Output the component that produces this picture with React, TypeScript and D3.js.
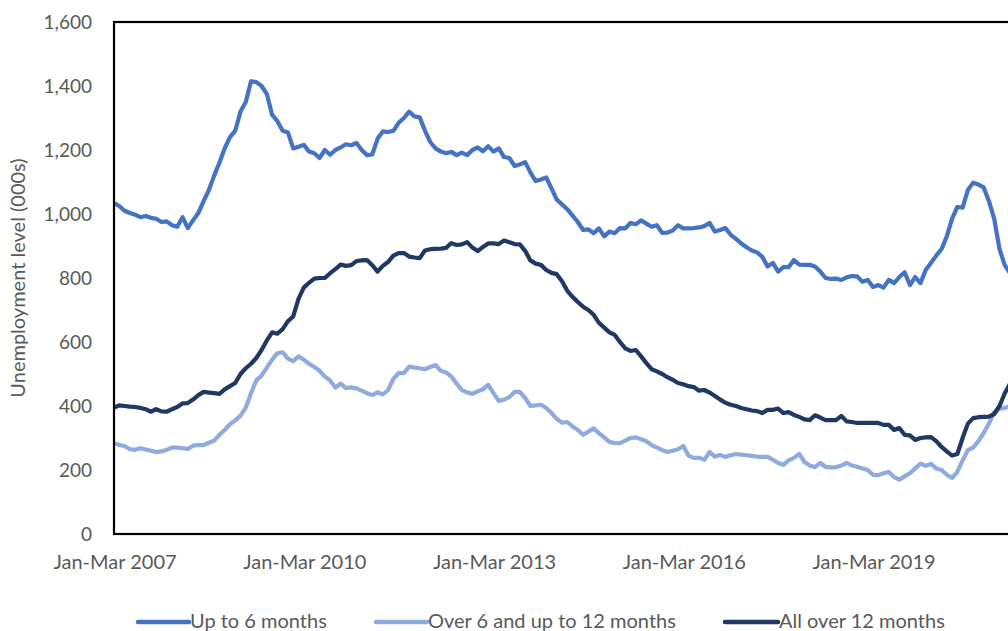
import * as d3 from 'd3';

// rolling quarters, monthly steps, starting Jan-Mar 2007
const monthNames = ['Jan', 'Feb', 'Mar', 'Apr', 'May', 'Jun', 'Jul', 'Aug', 'Sep', 'Oct', 'Nov', 'Dec'];

const upTo6 = [
  1034, 1025, 1010, 1003, 998, 990, 994, 988, 985, 975, 977, 965, 960, 990, 956, 980,
  1003, 1040, 1075, 1120, 1160, 1205, 1240, 1260, 1320, 1350, 1415, 1412, 1400, 1375, 1310, 1290,
  1260, 1255, 1205, 1210, 1216, 1195, 1190, 1175, 1200, 1185, 1200, 1208, 1218, 1215, 1222, 1200,
  1184, 1186, 1235, 1258, 1256, 1260, 1285, 1300, 1320, 1305, 1302, 1260, 1225, 1205, 1195, 1190,
  1194, 1184, 1192, 1184, 1200, 1208, 1196, 1212, 1195, 1205, 1178, 1175, 1150, 1155, 1162, 1130,
  1103, 1108, 1114, 1080, 1045, 1030, 1015, 995, 975, 950, 952, 940, 955, 930, 945, 940,
  956, 955, 972, 968, 980, 970, 960, 965, 941, 942, 948, 965, 955, 955, 956, 958,
  962, 972, 945, 950, 956, 935, 922, 908, 896, 886, 880, 866, 836, 847, 820, 834,
  834, 856, 842, 841, 841, 836, 820, 800, 797, 798, 794, 802, 806, 805, 788, 794,
  772, 778, 770, 794, 784, 803, 818, 778, 803, 784, 825, 847, 870, 890, 930, 985,
  1022, 1020, 1075, 1098, 1092, 1083, 1040, 985, 890, 840, 815, 800,
];

const over6to12 = [
  284, 278, 275, 265, 263, 268, 264, 260, 256, 258, 263, 270, 270, 268, 266, 276,
  278, 278, 285, 292, 310, 325, 343, 355, 370, 395, 440, 480, 495, 520, 545, 565,
  568, 548, 540, 555, 545, 532, 522, 510, 492, 480, 458, 470, 456, 458, 455, 448,
  440, 434, 443, 436, 450, 485, 503, 503, 523, 520, 518, 515, 522, 528, 510, 505,
  492, 470, 450, 442, 438, 446, 452, 466, 440, 416, 420, 428, 444, 444, 425, 400,
  402, 404, 394, 378, 360, 348, 350, 336, 325, 310, 320, 330, 315, 302, 288, 284,
  284, 292, 300, 302, 296, 290, 278, 270, 262, 256, 260, 265, 275, 245, 238, 238,
  232, 256, 242, 247, 241, 246, 250, 248, 246, 244, 242, 241, 241, 232, 222, 216,
  230, 238, 250, 225, 214, 209, 222, 210, 208, 209, 214, 222, 214, 210, 205, 200,
  185, 184, 190, 194, 178, 170, 180, 190, 205, 220, 213, 219, 205, 200, 185, 175,
  194, 230, 262, 270, 290, 316, 345, 380, 392, 394, 400, 410,
];

const over12 = [
  395, 402, 400, 398, 397, 394, 390, 382, 390, 383, 382, 390, 397, 408, 409, 420,
  434, 444, 442, 440, 438, 452, 462, 472, 500, 518, 532, 550, 575, 605, 630, 626,
  640, 665, 680, 735, 770, 785, 798, 800, 800, 815, 828, 842, 838, 840, 853, 855,
  856, 840, 820, 838, 850, 870, 878, 878, 867, 864, 862, 886, 890, 891, 892, 894,
  909, 903, 905, 912, 895, 884, 897, 908, 908, 906, 917, 912, 906, 905, 885, 855,
  845, 841, 825, 816, 812, 790, 760, 741, 725, 710, 700, 685, 660, 645, 630, 622,
  600, 580, 572, 575, 555, 534, 515, 508, 500, 490, 482, 472, 468, 462, 459, 448,
  450, 442, 431, 420, 410, 404, 400, 394, 390, 386, 384, 378, 388, 388, 392, 378,
  381, 372, 366, 358, 356, 371, 364, 356, 356, 356, 369, 352, 350, 347, 347, 347,
  347, 347, 341, 341, 325, 331, 310, 308, 294, 300, 302, 303, 290, 272, 258, 245,
  250, 300, 345, 362, 365, 366, 367, 375, 400, 440, 470, 495,
];

const periods = upTo6.map((_, i) => {
  const m = i % 12;
  const y = 2007 + Math.floor((i + 2) / 12);
  return `${monthNames[m]}-${monthNames[(m + 2) % 12]} ${y}`;
});

const tickLabels = ['Jan-Mar 2007', 'Jan-Mar 2010', 'Jan-Mar 2013', 'Jan-Mar 2016', 'Jan-Mar 2019'];
const yTicks = [0, 200, 400, 600, 800, 1000, 1200, 1400, 1600];

const seriesNames = ['Up to 6 months', 'Over 6 and up to 12 months', 'All over 12 months'];
const seriesColors = ['#4472C4', '#8FAADC', '#203864'];
const seriesData = [upTo6, over6to12, over12];

const W = 1008;
const H = 631;
const left = 114;
const top = 22;
const bottom = 534;
const font = 'Lato, "Open Sans", sans-serif';
const textColor = '#595959';

export default function App() {
  const x = d3.scaleLinear().domain([0, 144]).range([left, 873]);
  const y = d3.scaleLinear().domain([0, 1600]).range([bottom, top]);

  const line = d3.line<number>()
    .x((_, i) => x(i))
    .y(d => y(d))
    .curve(d3.curveLinear);

  const legendItems = [
    { x1: 138, x2: 189 },
    { x1: 376, x2: 427 },
    { x1: 725, x2: 778 },
  ];

  return (
    <svg width={W} height={H} style={{ position: 'absolute', left: 0, top: 0, background: '#fff' }}>
      <defs>
        <clipPath id="plotClip">
          <rect x={left} y={0} width={W - left} height={bottom + 4} />
        </clipPath>
      </defs>

      {/* y ticks */}
      {yTicks.map(t => (
        <text key={t} x={92} y={y(t)} dy="0.35em" textAnchor="end"
          fontFamily={font} fontSize={19} fill={textColor}>
          {d3.format(',')(t)}
        </text>
      ))}

      {/* x ticks */}
      {tickLabels.map(lbl => {
        const i = periods.indexOf(lbl);
        return (
          <text key={lbl} x={x(i) + 1} y={569} textAnchor="middle"
            fontFamily={font} fontSize={20} fill={textColor}>
            {lbl}
          </text>
        );
      })}

      <text transform={`translate(25,${(top + bottom) / 2}) rotate(-90)`} textAnchor="middle"
        fontFamily={font} fontSize={20} fill={textColor}>
        Unemployment level (000s)
      </text>

      <g clipPath="url(#plotClip)">
        {seriesData.map((s, k) => (
          <path key={seriesNames[k]} d={line(s) ?? ''} fill="none"
            stroke={seriesColors[k]} strokeWidth={4.2} strokeLinejoin="round" />
        ))}
      </g>

      {/* plot frame, right edge runs off the picture */}
      <rect x={left} y={top} width={W + 30 - left} height={bottom - top}
        fill="none" stroke="#000" strokeWidth={2.2} />

      {/* legend */}
      {seriesNames.map((name, k) => (
        <g key={name}>
          <line x1={legendItems[k].x1} x2={legendItems[k].x2} y1={622} y2={622}
            stroke={seriesColors[k]} strokeWidth={4.5} strokeLinecap="round" />
          <text x={legendItems[k].x2 + 1} y={621} dy="0.35em"
            fontFamily={font} fontSize={20} fill={textColor}>
            {name}
          </text>
        </g>
      ))}
    </svg>
  );
}
